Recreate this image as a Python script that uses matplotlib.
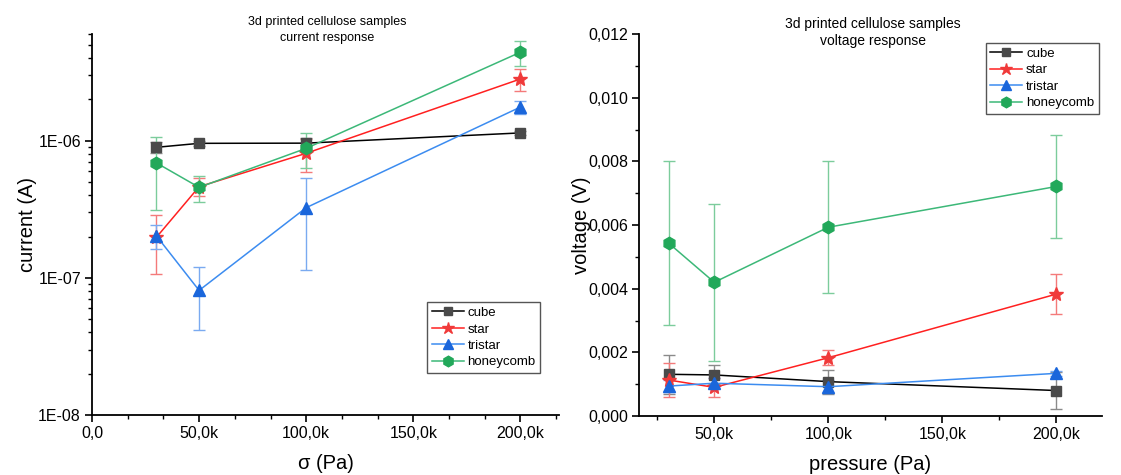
import math
import matplotlib
matplotlib.use("Agg")
import matplotlib.pyplot as plt
from matplotlib.lines import Line2D
from matplotlib.ticker import FixedLocator, MultipleLocator, FuncFormatter, LogLocator, NullFormatter

plt.rcParams['font.family'] = ['Liberation Sans', 'DejaVu Sans']

pressure = [30000, 50000, 100000, 200000]
series = ["cube", "star", "tristar", "honeycomb"]

# current response (A)
cur_cube = [8.95e-7, 9.57e-7, 9.6e-7, 1.14e-6]
cur_cube_err = [8e-8, 4e-8, 9e-8, 3e-8]
cur_star = [1.97e-7, 4.62e-7, 8.1e-7, 2.82e-6]
cur_star_err = [9e-8, 7e-8, 2.2e-7, 5e-7]
cur_tristar = [2.03e-7, 8.1e-8, 3.25e-7, 1.76e-6]
cur_tristar_err = [4e-8, 3.9e-8, 2.1e-7, 2e-7]
cur_honey = [6.9e-7, 4.57e-7, 8.8e-7, 4.42e-6]
cur_honey_err = [3.8e-7, 1e-7, 2.5e-7, 9e-7]

# voltage response (V)
vol_cube = [0.00131, 0.00129, 0.00108, 0.00080]
vol_cube_err = [0.00062, 0.00030, 0.00038, 0.00057]
vol_star = [0.00113, 0.00090, 0.00183, 0.00383]
vol_star_err = [0.00053, 0.00030, 0.00023, 0.00064]
vol_tristar = [0.00094, 0.00103, 0.00092, 0.00134]
vol_tristar_err = [0.00020, 0.00015, 0.00020, 0.00008]
vol_honey = [0.00543, 0.00420, 0.00593, 0.00721]
vol_honey_err = [0.00258, 0.00246, 0.00208, 0.00161]

styles = {
    "cube": dict(marker='s', color='black', mfc='#4a4a4a', ecolor='#8a8a8a', ms=7),
    "star": dict(marker='*', color='#ff2020', mfc='#f03a3a', ecolor='#f47a7a', ms=10.5),
    "tristar": dict(marker='^', color='#3c8cf0', mfc='#1a66db', ecolor='#7aaaf0', ms=8),
    "honeycomb": dict(marker='h', color='#3cb878', mfc='#22a85a', ecolor='#7ccc9c', ms=9),
}

fig = plt.figure(figsize=(11.21, 4.75), dpi=100)
ax1 = fig.add_axes([92/1121, 1-415/475, (559-92)/1121, (415-34)/475])
ax2 = fig.add_axes([639/1121, 1-416/475, (1102-639)/1121, (416-34)/475])

def draw(ax, data):
    for name, (vals, errs) in zip(series, data):
        st = styles[name]
        ax.errorbar(pressure, vals, yerr=errs, marker=st['marker'], color=st['color'],
                    mfc=st['mfc'], mec=st['mfc'], ms=st['ms'], lw=1.1,
                    ecolor=st['ecolor'], elinewidth=1.0, capsize=4, capthick=1.0)
    for s in ['top', 'right']:
        ax.spines[s].set_visible(False)
    for s in ['left', 'bottom']:
        ax.spines[s].set_linewidth(1.3)
    ax.tick_params(which='major', length=5, width=1.2, labelsize=11.5, pad=3)
    ax.tick_params(which='minor', length=3, width=1.0)

def legend_handles():
    hs = []
    for name in series:
        st = styles[name]
        hs.append(Line2D([0], [0], color=st['color'], marker=st['marker'], mfc=st['mfc'],
                         mec=st['mfc'], ms=st['ms'] * 0.85, lw=1.1, label=name))
    return hs

draw(ax1, [(cur_cube, cur_cube_err), (cur_star, cur_star_err),
           (cur_tristar, cur_tristar_err), (cur_honey, cur_honey_err)])
draw(ax2, [(vol_cube, vol_cube_err), (vol_star, vol_star_err),
           (vol_tristar, vol_tristar_err), (vol_honey, vol_honey_err)])

def kfmt(x, pos):
    if abs(x) < 1e-9:
        return "0,0"
    return ("%.1fk" % (x / 1000)).replace('.', ',')

leg_kw = dict(fontsize=9.5, frameon=True, fancybox=False, edgecolor='#555555',
              borderpad=0.35, labelspacing=0.32, handlelength=2.4, handletextpad=0.3,
              borderaxespad=0, framealpha=1)

# left axes
ax1.set_yscale('log')
ax1.set_ylim(1e-8, 6e-6)
ax1.set_xlim(0, 218000)
ax1.xaxis.set_major_locator(MultipleLocator(50000))
ax1.xaxis.set_minor_locator(MultipleLocator(50000/3))
ax1.xaxis.set_major_formatter(FuncFormatter(kfmt))
ax1.yaxis.set_major_locator(FixedLocator([1e-8, 1e-7, 1e-6]))
ax1.yaxis.set_major_formatter(FuncFormatter(lambda v, p: "1E-%02d" % round(-math.log10(v))))
ax1.yaxis.set_minor_locator(LogLocator(base=10, subs=range(2, 10)))
ax1.yaxis.set_minor_formatter(NullFormatter())
ax1.set_xlabel("σ (Pa)", fontsize=14.5, labelpad=9)
ax1.set_ylabel("current (A)", fontsize=14.5, labelpad=1)
ax1.legend(handles=legend_handles(), loc='lower right', bbox_to_anchor=(0.96, 0.11), **leg_kw)

# right axes
ax2.set_ylim(0, 0.012)
ax2.set_xlim(17000, 220000)
ax2.xaxis.set_major_locator(FixedLocator([50000, 100000, 150000, 200000]))
ax2.xaxis.set_minor_locator(FixedLocator([25000, 75000, 125000, 175000]))
ax2.xaxis.set_major_formatter(FuncFormatter(kfmt))
ax2.yaxis.set_major_locator(MultipleLocator(0.002))
ax2.yaxis.set_minor_locator(MultipleLocator(0.001))
ax2.yaxis.set_major_formatter(FuncFormatter(lambda v, p: ("%.3f" % v).replace('.', ',')))
ax2.set_xlabel("pressure (Pa)", fontsize=14.5, labelpad=9)
ax2.set_ylabel("voltage (V)", fontsize=14.5, labelpad=-2)
ax2.legend(handles=legend_handles(), loc='upper right', bbox_to_anchor=(0.993, 0.976), **leg_kw)

fig.text(327/1121, 1-22/475, "3d printed cellulose samples", ha='center', va='center', fontsize=9)
fig.text(327/1121, 1-38/475, "current response", ha='center', va='center', fontsize=9)
fig.text(873/1121, 1-24/475, "3d printed cellulose samples", ha='center', va='center', fontsize=10)
fig.text(873/1121, 1-41/475, "voltage response", ha='center', va='center', fontsize=10)

fig.savefig("out.png", dpi=100)
